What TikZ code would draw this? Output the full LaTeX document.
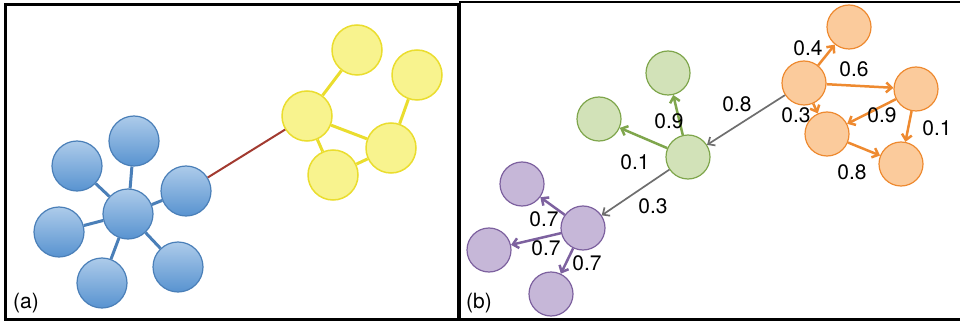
\documentclass[tikz,border=0pt]{standalone}
\usepackage{fontspec}
\setmainfont{TeX Gyre Heros}
\usetikzlibrary{arrows.meta}
\definecolor{bluetop}{HTML}{ADCBEA}
\definecolor{bluebot}{HTML}{5893D0}
\definecolor{blueline}{HTML}{4A7FB8}
\definecolor{yellowfill}{HTML}{F8F38E}
\definecolor{yellowline}{HTML}{EADD2E}
\definecolor{redline}{HTML}{A23A30}
\definecolor{greenfill}{HTML}{D2E2B8}
\definecolor{greenline}{HTML}{7FA64C}
\definecolor{orangefill}{HTML}{FBCB9C}
\definecolor{orangeline}{HTML}{EE8A30}
\definecolor{purplefill}{HTML}{C6B7D8}
\definecolor{purpleline}{HTML}{7D619F}
\definecolor{greyline}{HTML}{6E6E6E}
\tikzstyle{blueball} = [circle, minimum size=50pt, inner sep=0pt, draw=blueline, line width=1.2pt, top color=bluetop, bottom color=bluebot]
\tikzstyle{yellowball} = [circle, minimum size=50pt, inner sep=0pt, draw=yellowline, line width=1.5pt, fill=yellowfill]
\tikzstyle{greenball} = [circle, minimum size=44pt, inner sep=0pt, draw=greenline, line width=1.2pt, fill=greenfill]
\tikzstyle{orangeball} = [circle, minimum size=44pt, inner sep=0pt, draw=orangeline, line width=1.2pt, fill=orangefill]
\tikzstyle{purpleball} = [circle, minimum size=44pt, inner sep=0pt, draw=purpleline, line width=1.2pt, fill=purplefill]
\tikzstyle{weight} = [inner sep=0pt, font=\fontsize{21}{25}\selectfont]
\tikzstyle{link} = [-{Straight Barb[length=5.5pt,width=10pt]}, line width=2.5pt]

\begin{document}
\begin{tikzpicture}[x=1pt,y=-1pt]
	\useasboundingbox (0,0) rectangle (960,331);
	% frames
	\draw[line width=2.5pt] (5.5,4.5) rectangle (458.5,319.5);
	\draw[line width=2.5pt] (960,2) -- (460,2) -- (460,319.5) -- (960,319.5);
	\node[weight] (tagA) at (26,303) {(a)};
	\node[weight] (tagB) at (479,303) {(b)};

	% (a) blue star
	\node[blueball] (b0) at (128,214) {};
	\node[blueball] (b1) at (134,141) {};
	\node[blueball] (b2) at (77,166) {};
	\node[blueball] (b3) at (186,191) {};
	\node[blueball] (b4) at (59,232) {};
	\node[blueball] (b5) at (102,283) {};
	\node[blueball] (b6) at (178,267) {};
	\foreach \n in {b1,b2,b3,b4,b5,b6}
		\draw[blueline, line width=3pt] (b0) -- (\n);

	% (a) yellow group
	\node[yellowball] (y0) at (307,116) {};
	\node[yellowball] (y1) at (357,50) {};
	\node[yellowball] (y2) at (417,75) {};
	\node[yellowball] (y3) at (391,148) {};
	\node[yellowball] (y4) at (333,175) {};
	\draw[yellowline, line width=3pt] (y0) -- (y1) (y0) -- (y3) (y0) -- (y4) (y3) -- (y2) (y4) -- (y3);
	\draw[redline, line width=2pt] (b3) -- (y0);

	% (b) green
	\node[greenball] (g0) at (688,157) {};
	\node[greenball] (g1) at (668,73) {};
	\node[greenball] (g2) at (599,119) {};
	\draw[link, greenline] (g0) -- (g1);
	\draw[link, greenline] (g0) -- (g2);

	% (b) orange
	\node[orangeball] (o0) at (804,83) {};
	\node[orangeball] (o1) at (849,27) {};
	\node[orangeball] (o2) at (916,89) {};
	\node[orangeball] (o3) at (827,134) {};
	\node[orangeball] (o4) at (901,164) {};
	\draw[link, orangeline] (o0) -- (o1);
	\draw[link, orangeline] (o0) -- (o2);
	\draw[link, orangeline] (o0) -- (o3);
	\draw[link, orangeline, {Straight Barb[length=5.5pt,width=10pt]}-] (o3) -- (o2);
	\draw[link, orangeline] (o2) -- (o4);
	\draw[link, orangeline] (o3) -- (o4);

	% (b) purple
	\node[purpleball] (p0) at (583,228) {};
	\node[purpleball] (p1) at (522,184) {};
	\node[purpleball] (p2) at (489,250) {};
	\node[purpleball] (p3) at (551,294) {};
	\foreach \n in {p1,p2,p3}
		\draw[link, purpleline] (p0) -- (\n);

	% between groups
	\draw[link, greyline, line width=1.7pt] (o0) -- (g0);
	\draw[link, greyline, line width=1.7pt] (g0) -- (p0);

	% weights
	\node[weight] (w1) at (737,104) {0.8};
	\node[weight] (w2) at (653,206) {0.3};
	\node[weight] (w3) at (669,121) {0.9};
	\node[weight] (w4) at (635,162) {0.1};
	\node[weight] (w5) at (544,219) {0.7};
	\node[weight] (w6) at (546,248) {0.7};
	\node[weight] (w7) at (587,263) {0.7};
	\node[weight] (w8) at (808,48) {0.4};
	\node[weight] (w9) at (854,69) {0.6};
	\node[weight] (w10) at (796,115) {0.3};
	\node[weight] (w11) at (882,115) {0.9};
	\node[weight] (w12) at (937,128) {0.1};
	\node[weight] (w13) at (852,172) {0.8};
\end{tikzpicture}
\end{document}
